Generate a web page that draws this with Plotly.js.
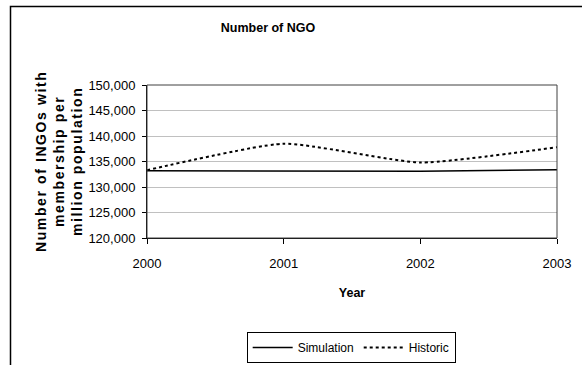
<!DOCTYPE html>
<html>
<head>
<meta charset="utf-8">
<script src="https://cdn.plot.ly/plotly-3.0.1.min.js"></script>
<style>html,body{margin:0;padding:0;background:#fff;}#chart{width:582px;height:365px;}</style>
</head>
<body>
<div id="chart"></div>
<script>
const years = [2000, 2001, 2002, 2003];
const simulation = [133200, 133200, 133100, 133400];
const historic = [133300, 138500, 134800, 137800];
const yTicks = [120000, 125000, 130000, 135000, 140000, 145000, 150000];
const yTickLabels = ["120,000", "125,000", "130,000", "135,000", "140,000", "145,000", "150,000"];

const font = "Liberation Sans, Arial, sans-serif";

const traces = [
  {x: years, y: simulation, name: "Simulation", mode: "lines", type: "scatter",
   line: {color: "#000", width: 1.5}},
  {x: years, y: historic, name: "Historic", mode: "lines", type: "scatter",
   line: {color: "#000", width: 2, dash: "dot", shape: "spline", smoothing: 0.5}}
];

const layout = {
  width: 582, height: 365,
  margin: {l: 147, r: 25, t: 85, b: 127, autoexpand: false},
  paper_bgcolor: "#fff", plot_bgcolor: "#fff",
  font: {family: font, size: 13, color: "#000"},
  showlegend: true,
  title: {text: "<b>Number of NGO</b>", font: {family: font, size: 12.5, color: "#000"},
          x: 268 / 582, xanchor: "center", y: 1 - 28/365, yanchor: "middle", xref: "container", yref: "container"},
  xaxis: {
    range: [2000, 2003], tickvals: years, ticktext: years.map(String),
    showline: true, linecolor: "#000", linewidth: 1,
    ticks: "outside", ticklen: 5, tickcolor: "#000",
    ticklabelstandoff: 8, showgrid: false, zeroline: false,
    tickfont: {size: 13},
    title: {text: "<b>Year</b>", font: {size: 12.5}, standoff: 18}
  },
  yaxis: {
    range: [120000, 150000], tickvals: yTicks, ticktext: yTickLabels,
    showline: true, linecolor: "#000", linewidth: 1,
    ticks: "outside", ticklen: 4, tickcolor: "#000",
    ticklabelstandoff: 4,
    showgrid: true, gridcolor: "#c0c0c0", gridwidth: 1, zeroline: false,
    tickfont: {size: 13}
  },
  legend: {
    orientation: "h", x: 0.498, xanchor: "center", y: (238 - 332) / 153, yanchor: "top",
    bordercolor: "#000", borderwidth: 1, bgcolor: "#fff",
    font: {size: 12}, itemwidth: 40, tracegroupgap: 0
  },
  annotations: [{
    text: "<b>Number of INGOs with<br>membership per<br>million population</b>",
    xref: "paper", yref: "paper", x: (59 - 147) / 410, y: (238 - 162) / 153,
    xanchor: "center", yanchor: "middle", textangle: -90, showarrow: false,
    font: {family: font, size: 14, color: "#000"}, align: "center"
  }],
  shapes: [
    {type: "rect", xref: "paper", yref: "paper", x0: 0, x1: 1, y0: 0, y1: 1,
     line: {color: "#404040", width: 1}, layer: "above"},
    {type: "rect", xref: "paper", yref: "paper",
     x0: (10.5 - 147) / 410, x1: (640 - 147) / 410,
     y0: (238 - 420) / 153, y1: (238 - 6.5) / 153,
     line: {color: "#000", width: 1.5}}
  ]
};

Plotly.newPlot("chart", traces, layout, {staticPlot: true}).then(function () {
  document.querySelectorAll("#chart .annotation-text").forEach(function (t) {
    t.setAttribute("letter-spacing", "1.6px");
  });
});
</script>
</body>
</html>
